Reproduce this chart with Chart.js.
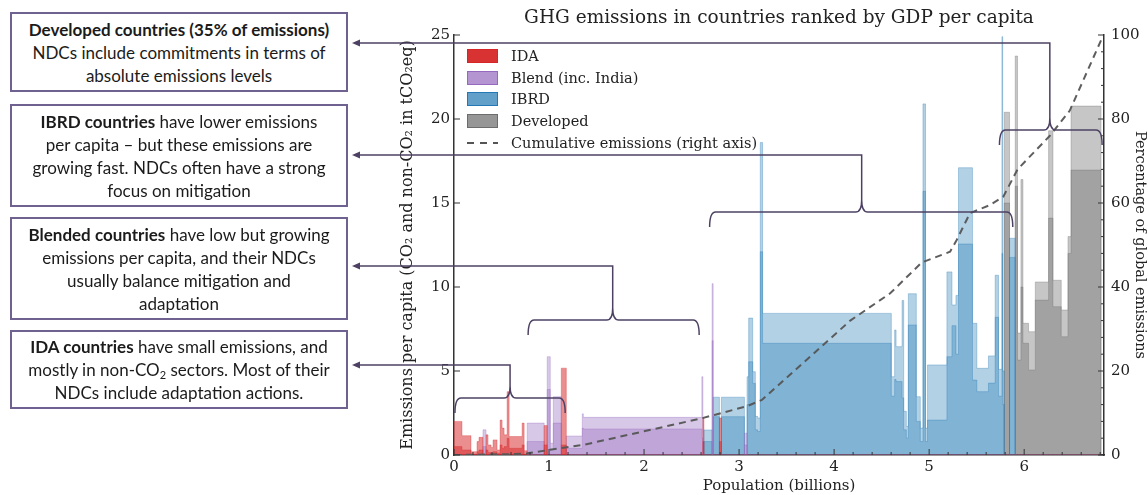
<!DOCTYPE html>
<html><head><meta charset="utf-8">
<script src="https://cdn.jsdelivr.net/npm/chart.js@4.4.0/dist/chart.umd.min.js"></script>
<style>
html,body{margin:0;padding:0;background:#fff;width:1148px;height:495px;overflow:hidden;}
#wrap{position:relative;width:1148px;height:495px;}
canvas{position:absolute;left:0;top:0;}
.box{position:absolute;left:10px;width:338px;box-sizing:border-box;border:2px solid #6f6290;display:flex;flex-direction:column;justify-content:center;align-items:center;font-family:Lato,'Open Sans',sans-serif;font-size:17px;line-height:23px;color:#1b1b1b;text-align:center;white-space:nowrap;background:#fff;}
.box b{font-weight:700;}
.box sub{font-size:11px;line-height:0;vertical-align:-3px;}
.legend{position:absolute;left:467px;top:0;font-family:'DejaVu Serif',serif;font-size:14.5px;color:#222;}
.row{position:absolute;left:0;height:22px;white-space:nowrap;display:flex;align-items:center;}
.sw{width:31px;height:14px;box-sizing:border-box;border:1.5px solid;margin-right:13px;}
.dash{width:31px;height:14px;margin-right:13px;}
</style></head>
<body>
<div id="wrap">
<canvas id="c" width="1148" height="495"></canvas>
<div class="box" style="top:12px;height:80px;"><div><b>Developed countries (35% of emissions)</b></div><div>NDCs include commitments in terms of</div><div>absolute emissions levels</div></div>
<div class="box" style="top:104px;height:103px;"><div><b>IBRD countries</b> have lower emissions</div><div>per capita – but these emissions are</div><div>growing fast. NDCs often have a strong</div><div>focus on mitigation</div></div>
<div class="box" style="top:217px;height:103px;"><div><b>Blended countries</b> have low but growing</div><div>emissions per capita, and their NDCs</div><div>usually balance mitigation and</div><div>adaptation</div></div>
<div class="box" style="top:330px;height:79px;"><div><b>IDA countries</b> have small emissions, and</div><div>mostly in non-CO<sub>2</sub> sectors. Most of their</div><div>NDCs include adaptation actions.</div></div>
<div class="legend" id="legend"></div>
</div>
<script>
// ---- Data (countries ranked by GDP per capita) ----
const popBillions = [0.084,0.095,0.063,0.021,0.042,0.032,0.021,0.032,0.021,0.042,0.032,0.021,0.021,0.032,0.021,0.137,0.021,0.032,
 0.179,0.032,0.032,0.032,0.084,0.053,0.168,0.011,1.247,0.011,0.011,
 0.086,0.011,0.066,0.021,0.242,0.028,0.017,0.042,0.028,0.024,0.028,0.024,1.355,0.035,0.015,0.063,0.017,0.028,0.021,0.084,0.042,0.028,0.027,0.021,0.204,0.053,0.042,0.027,0.147,0.046,0.122,0.071,0.035,0.036,0.008,0.016,
 0.056,0.060,0.024,0.036,0.021,0.059,0.071,0.140,0.046,0.087,0.071,0.032,0.316];
const totalPerCapita = [2.0,1.15,0.2,0.8,1.05,1.5,1.2,0.6,0.45,0.9,0.3,2.08,1.6,1.2,3.77,1.1,1.9,0.25,
 1.9,1.75,5.85,0.7,3.47,5.17,1.13,2.45,2.24,4.66,2.2,
 1.49,10.2,3.44,2.2,3.44,1.3,4.66,8.15,4.96,2.3,2.2,18.6,8.43,4.66,7.44,6.45,9.2,2.6,1.7,9.6,3.47,1.6,20.9,1.6,5.36,10.9,8.93,9.5,17.1,7.84,5.16,5.9,10.7,5.1,24.9,5.0,
 20.4,12.9,23.75,7.26,16.4,7.84,7.34,10.3,19.3,10.4,8.63,13.0,20.77];
const co2PerCapita = [0.5,0.3,0.05,0.2,0.3,0.5,0.3,0.15,0.1,0.2,0.1,0.6,0.4,0.5,1.0,0.4,0.6,0.05,
 0.8,0.6,3.9,0.3,1.9,0.6,0.4,1.6,1.55,1.0,0.8,
 0.8,6.8,2.28,0.8,2.28,0.6,3.0,5.55,4.26,1.5,1.4,12.1,6.65,3.5,4.5,4.37,3.4,1.5,1.0,7.74,2.0,0.8,15.7,0.8,2.08,5.85,7.7,6.0,12.56,4.46,3.77,4.28,8.2,3.5,12,3.0,
 15,11.76,16,5.65,10,6.65,5.06,9.22,14.1,8.83,7.04,12.0,16.96];
const incomeGroup = ['IDA','IDA','IDA','IDA','IDA','Blend','IDA','IDA','IDA','IDA','IDA','IDA','IDA','IDA','IDA','IDA','IDA','IDA',
 'Blend','IDA','Blend','Blend','Blend','IDA','Blend','Blend','Blend','Blend','IDA',
 'IBRD','Blend','IBRD','IDA','IBRD','Blend','IBRD','IBRD','IBRD','IBRD','IBRD','IBRD','IBRD','IBRD','IBRD','IBRD','IBRD','IBRD','IBRD','IBRD','IBRD','IBRD','IBRD','IBRD','IBRD','IBRD','IBRD','IBRD','IBRD','IBRD','IBRD','IBRD','IBRD','IBRD','IBRD','IBRD',
 'Developed','IBRD','Developed','Developed','Developed','Developed','Developed','Developed','Developed','Developed','Developed','Developed','Developed'];
// cumulative share of global emissions (right axis)
const cumPopulation = [0,0.6,0.77,1.0,1.36,2.6,2.75,3.08,3.24,4.17,4.59,4.92,5.22,5.29,5.43,5.64,5.78,5.93,6.27,6.48,6.82];
const cumShare      = [0,0.2,0.4,1.2,2.4,8.7,9.6,11.6,13.1,32,38.5,45.8,48.4,51.2,57.6,59.5,61.5,68,76,82,99.3];
const groups = ['IDA','Blend','IBRD','Developed'];
const groupLabels = ['IDA','Blend (inc. India)','IBRD','Developed'];
const xTicks = [0,1,2,3,4,5,6];
const yTicks = [0,5,10,15,20,25];
const y2Ticks = [0,20,40,60,80,100];

// ---- Styles ----
const baseRGB = {IDA:[214,39,40], Blend:[148,103,189], IBRD:[31,119,180], Developed:[105,105,105]};
const fillAlpha = {IDA:0.52, Blend:0.36, IBRD:0.34, Developed:0.38};
const rgba = (c,a)=>`rgba(${c[0]},${c[1]},${c[2]},${a})`;

function stepSeries(values, group){
  const pts=[]; let x=0;
  for(let i=0;i<popBillions.length;i++){
    pts.push({x:x, y: incomeGroup[i]===group ? values[i] : 0});
    x+=popBillions[i];
  }
  pts.push({x:x, y:0});
  return pts;
}

const datasets = [{
  label:'Cumulative emissions (right axis)',
  data: cumPopulation.map((x,i)=>({x:x,y:cumShare[i]})),
  yAxisID:'y2', borderColor:'rgba(85,85,85,0.95)', borderWidth:2, borderDash:[7,5],
  pointRadius:0, fill:false, tension:0
}];
groups.forEach(g=>{
  [co2PerCapita,totalPerCapita].forEach(vals=>{
    datasets.push({
      label:g, data:stepSeries(vals,g), yAxisID:'y', stepped:true,
      borderColor:rgba(baseRGB[g],0.45), borderWidth:0.7,
      backgroundColor:rgba(baseRGB[g],fillAlpha[g]), fill:'origin', pointRadius:0
    });
  });
});

// ---- Inward tick marks (matplotlib style) ----
const tickPlugin = {
  id:'inTicks',
  afterDraw(chart){
    const ctx=chart.ctx, a=chart.chartArea, sx=chart.scales.x, sy=chart.scales.y, s2=chart.scales.y2;
    ctx.save(); ctx.strokeStyle='#333'; ctx.lineWidth=1;
    ctx.beginPath();
    for(let v=0; v<=6.84; v+=0.2){
      const p=sx.getPixelForValue(v); const major=Math.abs(v-Math.round(v))<1e-6;
      ctx.moveTo(p,a.bottom); ctx.lineTo(p,a.bottom-(major?6:3));
    }
    yTicks.forEach(v=>{const p=sy.getPixelForValue(v); ctx.moveTo(a.left,p); ctx.lineTo(a.left+6,p);});
    for(let v=0; v<=100; v+=4){
      const p=s2.getPixelForValue(v); const major=v%20===0;
      ctx.moveTo(a.right,p); ctx.lineTo(a.right-(major?6:3),p);
    }
    ctx.stroke(); ctx.restore();
  }
};

// ---- Annotation brackets (group extents, in data units) ----
const bracketSpec = [
  {x0:0.01, x1:1.17, peak:0.59, level:3.4,  arrowY:365},
  {x0:0.78, x1:2.58, peak:1.67, level:8.04, arrowY:266},
  {x0:2.69, x1:5.88, peak:4.29, level:14.46,arrowY:155},
  {x0:5.74, x1:6.82, peak:6.27, level:19.35,arrowY:43}
];
const bracketPlugin = {
  id:'brackets',
  afterDraw(chart){
    const ctx=chart.ctx, sx=chart.scales.x, sy=chart.scales.y;
    const boxEdge=352, drop=15, cusp=12, r=6;
    ctx.save();
    ctx.strokeStyle='#4d4163'; ctx.fillStyle='#4d4163'; ctx.lineWidth=1.5;
    bracketSpec.forEach(b=>{
      const xl=sx.getPixelForValue(b.x0), xr=sx.getPixelForValue(b.x1), xp=sx.getPixelForValue(b.peak), yb=sy.getPixelForValue(b.level);
      ctx.beginPath();
      ctx.moveTo(xl,yb+drop);
      ctx.quadraticCurveTo(xl,yb,xl+r,yb);
      ctx.lineTo(xp-r,yb);
      ctx.quadraticCurveTo(xp,yb,xp,yb-cusp);
      ctx.quadraticCurveTo(xp,yb,xp+r,yb);
      ctx.lineTo(xr-r,yb);
      ctx.quadraticCurveTo(xr,yb,xr,yb+drop);
      ctx.stroke();
      ctx.beginPath();
      ctx.moveTo(boxEdge+4,b.arrowY);
      ctx.lineTo(xp,b.arrowY);
      ctx.lineTo(xp,yb-cusp);
      ctx.stroke();
      ctx.beginPath();
      ctx.moveTo(boxEdge,b.arrowY);
      ctx.lineTo(boxEdge+8,b.arrowY-3.5);
      ctx.lineTo(boxEdge+8,b.arrowY+3.5);
      ctx.closePath(); ctx.fill();
    });
    ctx.restore();
  }
};

const serif="'DejaVu Serif', serif";
const axisColor='#333';
const noGrid={display:false, drawTicks:false, tickLength:0};
new Chart(document.getElementById('c'),{
  type:'line',
  data:{datasets},
  options:{
    responsive:false, animation:false, devicePixelRatio:1,
    layout:{padding:{left:395,right:0,top:0,bottom:0}},
    plugins:{
      legend:{display:false}, tooltip:{enabled:false},
      title:{display:true, fullSize:false, text:'GHG emissions in countries ranked by GDP per capita',
        font:{family:serif,size:18.5,weight:'normal'}, color:'#222', padding:{top:7.5,bottom:5.3}}
    },
    scales:{
      x:{type:'linear', min:0, max:6.84,
        afterBuildTicks(s){ s.ticks = xTicks.map(v=>({value:v})); },
        afterFit(s){ s.height=40; },
        ticks:{font:{family:serif,size:15}, color:'#222', padding:3, maxRotation:0},
        grid:noGrid, border:{display:true,color:axisColor,width:1.5},
        title:{display:true,text:'Population (billions)',font:{family:serif,size:15},color:'#222',padding:{top:0,bottom:0}}
      },
      y:{type:'linear', position:'left', min:0, max:25,
        afterBuildTicks(s){ s.ticks = yTicks.map(v=>({value:v})); },
        afterFit(s){ s.width=59; },
        ticks:{font:{family:serif,size:15},color:'#222',padding:4},
        grid:noGrid, border:{display:true,color:axisColor,width:1.5},
        title:{display:true,text:'Emissions per capita (CO₂ and non-CO₂ in tCO₂eq)',font:{family:serif,size:16},color:'#222',padding:{top:3,bottom:0}}
      },
      y2:{type:'linear', position:'right', min:0, max:100,
        afterBuildTicks(s){ s.ticks = y2Ticks.map(v=>({value:v})); },
        afterFit(s){ s.width=44; },
        ticks:{font:{family:serif,size:15},color:'#222',padding:7},
        grid:noGrid, border:{display:true,color:axisColor,width:1.5},
        title:{display:true,text:'Percentage of global emissions',font:{family:serif,size:14.5},color:'#222',padding:{top:0,bottom:1}}
      }
    }
  },
  plugins:[tickPlugin, bracketPlugin]
});

// ---- HTML legend ----
const legend=document.getElementById('legend');
const rowCenters=[56,78,99,121,143];
groups.forEach((g,i)=>{
  const row=document.createElement('div'); row.className='row'; row.style.top=(rowCenters[i]-11)+'px';
  const sw=document.createElement('div'); sw.className='sw';
  sw.style.background=rgba(baseRGB[g], g==='IDA'?0.95:0.7); sw.style.borderColor=rgba(baseRGB[g],0.95);
  row.appendChild(sw); row.appendChild(document.createTextNode(groupLabels[i])); legend.appendChild(row);
});
const row=document.createElement('div'); row.className='row'; row.style.top=(rowCenters[4]-11)+'px';
row.innerHTML='<svg class="dash" width="31" height="14"><line x1="0" y1="7" x2="31" y2="7" stroke="#555" stroke-width="2" stroke-dasharray="7,6"/></svg>Cumulative emissions (right axis)';
legend.appendChild(row);
</script>
</body></html>
